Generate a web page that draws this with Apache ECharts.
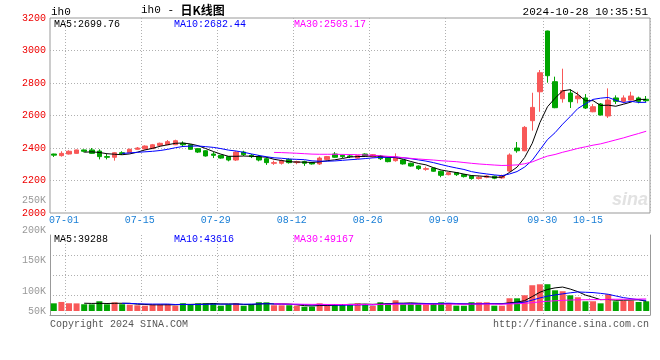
<!DOCTYPE html>
<html><head><meta charset="utf-8">
<script src="https://cdn.jsdelivr.net/npm/echarts@6/dist/echarts.min.js"></script>
<style>html,body{margin:0;padding:0;background:#fff}#c{width:660px;height:360px}</style>
</head><body><div id="c"></div>
<script>
const dates = ['06-28','07-01','07-02','07-03','07-04','07-05','07-08','07-09','07-10','07-11','07-12','07-15','07-16','07-17','07-18','07-19','07-22','07-23','07-24','07-25','07-26','07-29','07-30','07-31','08-01','08-02','08-05','08-06','08-07','08-08','08-09','08-12','08-13','08-14','08-15','08-16','08-19','08-20','08-21','08-22','08-23','08-26','08-27','08-28','08-29','08-30','09-02','09-03','09-04','09-05','09-06','09-09','09-10','09-11','09-12','09-13','09-18','09-19','09-20','09-23','09-24','09-25','09-26','09-27','09-30','10-08','10-09','10-10','10-11','10-14','10-15','10-16','10-17','10-18','10-21','10-22','10-23','10-24','10-25'];
const openP = [2363,2353,2363,2367,2388,2388,2381,2347,2343,2371,
  2371,2392,2394,2396,2416,2420,2420,2429,2420,2396,
  2383,2363,2355,2347,2326,2375,2355,2347,2334,2306,
  2306,2330,2310,2316,2310,2302,2330,2363,2355,2351,
  2338,2363,2345,2351,2340,2322,2326,2306,2289,2269,
  2277,2257,2236,2248,2236,2228,2212,2220,2226,2216,
  2258,2400,2383,2568,2746,3120,2808,2703,2738,2703,
  2708,2623,2671,2597,2708,2687,2695,2708,2700];
const closeP = [2356,2367,2380,2388,2380,2367,2347,2343,2371,2365,
  2392,2400,2412,2420,2429,2439,2445,2420,2392,2375,
  2351,2355,2338,2326,2375,2359,2347,2326,2310,2310,
  2322,2310,2316,2306,2302,2338,2347,2343,2347,2347,
  2353,2351,2359,2334,2316,2345,2302,2289,2273,2273,
  2257,2232,2248,2236,2224,2212,2220,2228,2214,2229,
  2357,2383,2527,2650,2863,2845,2648,2753,2685,2720,
  2646,2654,2603,2695,2687,2708,2720,2687,2691];
const lowP = [2345,2347,2360,2365,2373,2364,2330,2330,2322,2357,
  2369,2390,2392,2394,2414,2418,2418,2406,2390,2369,
  2347,2338,2334,2318,2320,2351,2338,2318,2296,2296,
  2298,2304,2300,2290,2298,2296,2326,2340,2338,2338,
  2334,2347,2340,2326,2312,2316,2298,2285,2265,2260,
  2254,2220,2232,2228,2218,2205,2206,2214,2208,2210,
  2252,2371,2380,2507,2623,2802,2645,2679,2646,2675,
  2640,2620,2600,2585,2671,2675,2693,2675,2683];
const highP = [2365,2380,2386,2390,2391,2400,2392,2363,2375,2380,
  2396,2406,2416,2425,2433,2449,2451,2441,2423,2398,
  2386,2375,2357,2349,2380,2383,2363,2357,2345,2322,
  2330,2336,2322,2322,2314,2347,2351,2375,2359,2357,
  2357,2367,2363,2357,2342,2367,2330,2310,2293,2285,
  2279,2260,2252,2250,2240,2232,2226,2234,2230,2236,
  2367,2437,2535,2740,2880,3122,2839,2888,2761,2746,
  2732,2670,2677,2767,2724,2724,2746,2716,2720];
const volume = [31200,36800,31500,31000,27400,27100,39600,27200,35300,27500,
  25700,23100,21500,27400,27200,27600,21400,31400,27300,31100,
  31600,31200,21700,27300,31500,21500,27200,35600,35200,23300,
  23100,23400,21600,17400,17600,31200,23300,27400,27100,27500,
  31400,27300,21500,35500,31300,43600,27200,27500,27300,27100,
  31400,35300,31200,21700,21400,35600,35300,35500,21600,21500,
  51800,51600,64000,104700,108600,108900,84100,80300,63800,55900,
  39400,39600,31200,68100,39500,41800,42000,36700,39400];
const xLabelDates = ['07-01','07-15','07-29','08-12','08-26','09-09','09-30','10-15'];
const volTickLabels = ['250K','200K','150K','100K','50K'];
const mainLegend = ['MA5:2699.76','MA10:2682.44','MA30:2503.17'];
const volLegend = ['MA5:39288','MA10:43616','MA30:49167'];
const titleText = 'ih0 - ';
const titleCn = '日K线图';
const codeText = 'ih0';
const timeText = '2024-10-28 10:35:51';
const copyText = 'Copyright 2024 SINA.COM';
const urlText = 'http://finance.sina.com.cn';

const RED = '#f85858', GREEN = '#00a400';
const MA_COLORS = ['#000000', '#0000ff', '#ff00ff'];
const MONO = '"Liberation Mono","DejaVu Sans Mono",monospace';
const GRIDC = '#b0b0b0';

function ma(arr, n) {
  return arr.map((v, i) => {
    if (i < n - 1) return null;
    let s = 0;
    for (let k = i - n + 1; k <= i; k++) s += arr[k];
    return +(s / n).toFixed(2);
  });
}
const labelIdx = new Set(xLabelDates.map(d => dates.indexOf(d)));

const chart = echarts.init(document.getElementById('c'), null, {renderer: 'canvas'});
const periods = [5, 10, 30];

const volRich = {};
['200000','150000','100000','50000'].forEach((k, j) => {
  const pads = [[0,0,10,0],[10,0,0,0],[32,0,0,0],[32,0,0,0]];
  volRich['k' + k] = {color: '#999', fontSize: 10, fontFamily: MONO, padding: pads[j]};
});

const legendGraphics = [];
mainLegend.forEach((t, j) => legendGraphics.push({type: 'text', x: 54 + j * 120, y: 24,
  style: {text: t, fill: MA_COLORS[j], font: '10px ' + MONO, verticalAlign: 'middle'}}));
volLegend.forEach((t, j) => legendGraphics.push({type: 'text', x: 54 + j * 120, y: 239,
  style: {text: t, fill: MA_COLORS[j], font: '10px ' + MONO, verticalAlign: 'middle'}}));

chart.setOption({
  animation: false,
  backgroundColor: '#fff',
  grid: [
    {left: 50, right: 10, top: 18, height: 195, show: true, borderColor: '#999', borderWidth: 1},
    {left: 50, right: 10, top: 234, height: 77},
    {left: 50, right: 10, top: 235, height: 80}
  ],
  xAxis: [
    {type: 'category', gridIndex: 0, data: dates, boundaryGap: true,
      axisLine: {show: false}, axisTick: {show: false},
      axisLabel: {interval: (i) => labelIdx.has(i), color: '#1a7fd6', fontSize: 10, fontFamily: MONO, margin: 2, padding: [0,0,0,5]},
      splitLine: {show: true, interval: (i) => labelIdx.has(i - 1), lineStyle: {color: GRIDC, type: [1, 2]}}},
    {type: 'category', gridIndex: 1, data: dates, boundaryGap: true,
      axisLine: {show: false}, axisTick: {show: false}, axisLabel: {show: false}, splitLine: {show: false}},
    {type: 'category', gridIndex: 2, data: dates, boundaryGap: true, position: 'top',
      axisLine: {show: true, lineStyle: {color: '#999'}}, axisTick: {show: false}, axisLabel: {show: false},
      splitLine: {show: true, interval: (i) => labelIdx.has(i - 1), lineStyle: {color: GRIDC, type: [1, 2]}}}
  ],
  yAxis: [
    {type: 'value', gridIndex: 0, min: 2000, max: 3200, interval: 200,
      axisLine: {show: false}, axisTick: {show: false},
      axisLabel: {color: '#ee0000', fontSize: 10, fontFamily: MONO, margin: 4, formatter: (v) => String(v)},
      splitLine: {show: true, showMinLine: false, showMaxLine: false, lineStyle: {color: GRIDC, type: [1, 2]}}},
    {type: 'value', gridIndex: 1, min: 0, max: 313000,
      axisLine: {show: false}, axisTick: {show: false}, axisLabel: {show: false}, splitLine: {show: false}},
    {type: 'value', gridIndex: 2, min: 0, max: 200000, interval: 50000,
      axisLine: {show: true, lineStyle: {color: '#999'}}, axisTick: {show: false},
      axisLabel: {margin: 4, rich: volRich,
        formatter: (v) => v === 0 ? '' : '{k' + v + '|' + volTickLabels[5 - v / 50000] + '}'},
      splitLine: {show: true, showMinLine: false, showMaxLine: false, lineStyle: {color: GRIDC, type: [1, 2]}}},
    {type: 'value', gridIndex: 2, position: 'right', min: 0, max: 200000,
      axisLine: {show: true, lineStyle: {color: '#999'}}, axisTick: {show: false}, axisLabel: {show: false}, splitLine: {show: false}}
  ],
  series: [
    {type: 'candlestick', xAxisIndex: 0, yAxisIndex: 0, barWidth: 5,
      data: dates.map((d, i) => [openP[i], closeP[i], lowP[i], highP[i]]),
      itemStyle: {color: RED, color0: GREEN, borderColor: RED, borderColor0: GREEN, borderWidth: 1}},
    ...periods.map((n, j) => ({type: 'line', xAxisIndex: 0, yAxisIndex: 0, data: ma(closeP, n),
      symbol: 'none', lineStyle: {width: 1, color: MA_COLORS[j]}, z: 5})),
    {type: 'bar', xAxisIndex: 1, yAxisIndex: 1, barWidth: 6,
      data: volume.map((v, i) => ({value: v, itemStyle: {color: closeP[i] >= openP[i] ? RED : GREEN}}))},
    ...periods.map((n, j) => ({type: 'line', xAxisIndex: 1, yAxisIndex: 1, data: ma(volume, n),
      symbol: 'none', lineStyle: {width: 1, color: MA_COLORS[j]}, z: 5}))
  ],
  graphic: [
    {type: 'text', x: 51, y: 12, style: {text: codeText, fill: '#000', font: '11px ' + MONO, verticalAlign: 'middle'}},
    {type: 'text', x: 141, y: 10, style: {text: '{a|' + titleText + '}{b|' + titleCn + '}', verticalAlign: 'middle',
      rich: {a: {fontSize: 11, fontFamily: MONO, fill: '#000', color: '#000'},
             b: {fontSize: 12, fontFamily: '"Noto Sans CJK SC"', color: '#000', fontWeight: 'bold'}}}},
    {type: 'text', x: 648, y: 12, style: {text: timeText, fill: '#000', font: '11px ' + MONO, align: 'right', verticalAlign: 'middle'}},
    {type: 'text', x: 648, y: 200, style: {text: 'sina', fill: '#e2e2e2', font: 'italic bold 18px "Liberation Sans"', align: 'right', verticalAlign: 'middle'}},
    {type: 'text', x: 46, y: 200, style: {text: volTickLabels[0], fill: '#999', font: '10px ' + MONO, align: 'right', verticalAlign: 'middle'}},
    {type: 'text', x: 50, y: 324, style: {text: copyText, fill: '#555', font: '10px ' + MONO, verticalAlign: 'middle'}},
    {type: 'text', x: 649, y: 324, style: {text: urlText, fill: '#555', font: '10px ' + MONO, align: 'right', verticalAlign: 'middle'}},
    ...legendGraphics
  ]
});
</script></body></html>
